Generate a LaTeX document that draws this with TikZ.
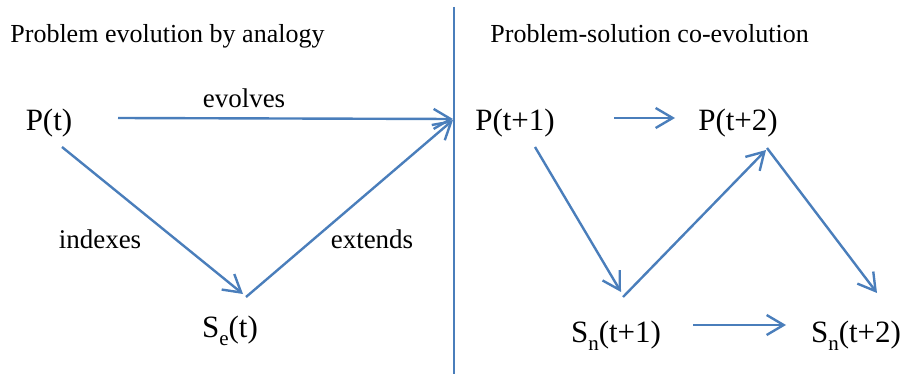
\documentclass[tikz,border=0pt]{standalone}
\usepackage{fontspec}
\setmainfont{Liberation Serif}
\usetikzlibrary{arrows.meta,positioning}

\definecolor{linkblue}{RGB}{74,126,187}
\newcommand{\lowsub}[1]{\raisebox{-0.28em}{\fontsize{10.5pt}{11pt}\selectfont #1}}

\begin{document}
\begin{tikzpicture}[x=0.5pt, y=-0.5pt,
    state/.style={anchor=base, inner sep=0pt, font=\fontsize{15.5pt}{18pt}\selectfont},
    title/.style={anchor=base west, inner sep=0pt, font=\fontsize{13pt}{16pt}\selectfont},
    tag/.style={anchor=base, inner sep=0pt, font=\fontsize{13.5pt}{16pt}\selectfont},
    flow/.style={-{Straight Barb[length=8.5pt,width=10pt]}, draw=linkblue, line width=1.2pt},
    divide/.style={draw=linkblue, line width=1pt}
]
    \useasboundingbox (0,0) rectangle (904,374);

    % Headings
    \node[title] (lefthead) at (10,43) {Problem evolution by analogy};
    \node[title] (righthead) at (490,43) {Problem-solution co-evolution};

    % Divider
    \coordinate (divtop) at (454,7);
    \coordinate (divbot) at (454,374);
    \draw[divide] (divtop) -- (divbot);

    % States, left side
    \node[state] (pt) at (49,130) {P(t)};
    \node[state] (se) at (230,337) {S\lowsub{e}(t)};

    % States, right side
    \node[state] (pa) at (515,130) {P(t+1)};
    \node[state] (pb) at (738,130) {P(t+2)};
    \node[state] (sa) at (616,342) {S\lowsub{n}(t+1)};
    \node[state] (sb) at (856,342) {S\lowsub{n}(t+2)};

    % Left arrows
    \draw[flow] ([shift={(69,-12)}]pt.base) -- ([shift={(-62,-11)}]pa.base);
    \draw[flow] ([shift={(13,17)}]pt.base) -- ([shift={(13,-43)}]se.base);
    \draw[flow] ([shift={(16,-40)}]se.base) -- ([shift={(-62,-10)}]pa.base);

    \node[tag] (evolves) at (244,108) {evolves};
    \node[tag] (indexes) at (100,248) {indexes};
    \node[tag] (extends) at (372,248) {extends};

    % Right arrows
    \draw[flow] ([shift={(99,-12)}]pa.base) -- ([shift={(-63,-12)}]pb.base);
    \draw[flow] ([shift={(20,17)}]pa.base) -- ([shift={(5,-50)}]sa.base);
    \draw[flow] ([shift={(7,-45)}]sa.base) -- ([shift={(28,20)}]pb.base);
    \draw[flow] ([shift={(29,18)}]pb.base) -- ([shift={(21,-49)}]sb.base);
    \draw[flow] ([shift={(77,-17)}]sa.base) -- ([shift={(-70,-17)}]sb.base);
\end{tikzpicture}
\end{document}
